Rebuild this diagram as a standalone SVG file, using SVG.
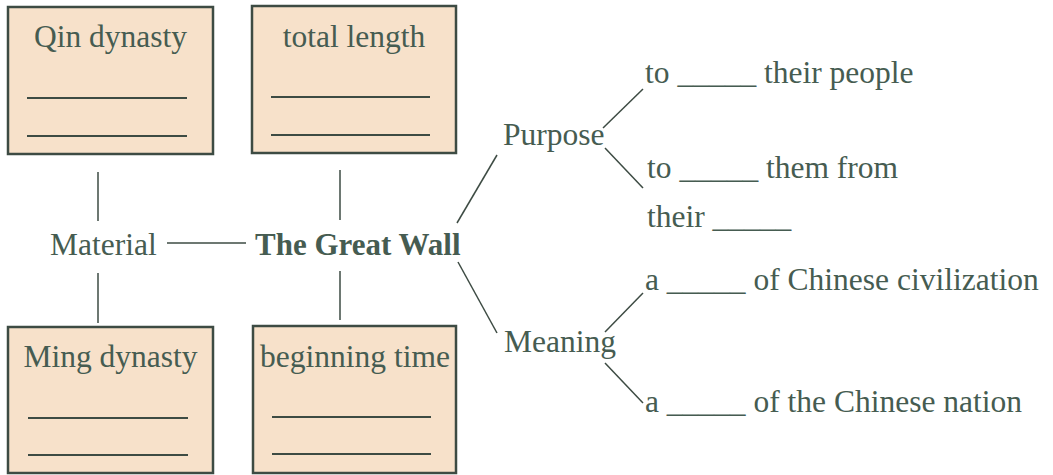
<svg xmlns="http://www.w3.org/2000/svg" width="1053" height="475" viewBox="0 0 1053 475">
<style>
.nodebox{fill:#f7e1ca;stroke:#3d4b43;stroke-width:2.5}
.blankline{stroke:#3d4b43;stroke-width:1.8}
.edge{stroke:#3d4b43;stroke-width:1.5}
</style>
<rect width="1053" height="475" fill="#ffffff"/>
<g font-family="Liberation Serif, Times New Roman, serif" font-size="31.5" fill="#465c51">
<g id="qin">
<rect class="nodebox" x="8" y="7" width="205" height="147"/>
<text x="110.5" y="47" text-anchor="middle">Qin dynasty</text>
<line class="blankline" x1="27" y1="98" x2="187" y2="98"/>
<line class="blankline" x1="27" y1="136" x2="187" y2="136"/>
</g>
<g id="length">
<rect class="nodebox" x="252" y="6" width="204" height="147"/>
<text x="354" y="47" text-anchor="middle">total length</text>
<line class="blankline" x1="271" y1="97" x2="430" y2="97"/>
<line class="blankline" x1="271" y1="135" x2="430" y2="135"/>
</g>
<g id="ming">
<rect class="nodebox" x="8" y="327" width="205" height="146"/>
<text x="110.5" y="367" text-anchor="middle">Ming dynasty</text>
<line class="blankline" x1="28" y1="418" x2="188" y2="418"/>
<line class="blankline" x1="28" y1="455" x2="188" y2="455"/>
</g>
<g id="begin">
<rect class="nodebox" x="253" y="326" width="203" height="147"/>
<text x="355" y="367" text-anchor="middle">beginning time</text>
<line class="blankline" x1="272" y1="417" x2="431" y2="417"/>
<line class="blankline" x1="272" y1="454" x2="431" y2="454"/>
</g>
<g id="material"><text x="50" y="255">Material</text></g>
<g id="greatwall"><text x="255" y="255" font-weight="bold" font-size="31">The Great Wall</text></g>
<g id="purpose"><text x="503" y="145">Purpose</text></g>
<g id="meaning"><text x="504" y="352">Meaning</text></g>
<g id="p1"><text x="645" y="83" xml:space="preserve">to _____ their people</text></g>
<g id="p2"><text x="647" y="178" xml:space="preserve">to _____ them from</text><text x="647" y="227" xml:space="preserve">their _____</text></g>
<g id="m1"><text x="645" y="290" xml:space="preserve">a _____ of Chinese civilization</text></g>
<g id="m2"><text x="645" y="412" xml:space="preserve">a _____ of the Chinese nation</text></g>
</g>
<g id="connectors" class="edge">
<line x1="98" y1="172" x2="98" y2="221"/>
<line x1="98" y1="273" x2="98" y2="323"/>
<line x1="340" y1="170" x2="340" y2="220"/>
<line x1="340" y1="271" x2="340" y2="320"/>
<line x1="167" y1="243" x2="246" y2="243"/>
<line x1="457" y1="223" x2="497" y2="155"/>
<line x1="458" y1="262" x2="497" y2="333"/>
<line x1="603" y1="128" x2="643" y2="89"/>
<line x1="605" y1="148" x2="643" y2="188"/>
<line x1="605" y1="332" x2="643" y2="293"/>
<line x1="605" y1="363" x2="643" y2="403"/>
</g>
</svg>
